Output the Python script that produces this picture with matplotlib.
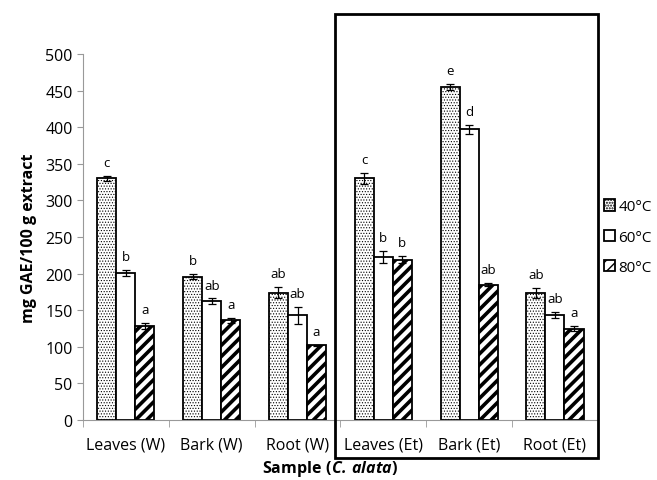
import matplotlib
matplotlib.use("Agg")
import matplotlib.pyplot as plt
import numpy as np
from matplotlib.patches import Rectangle

plt.rcParams['font.family'] = ['Open Sans', 'DejaVu Sans']
plt.rcParams['mathtext.fontset'] = 'custom'
plt.rcParams['mathtext.bf'] = 'Open Sans:bold'
plt.rcParams['mathtext.bfit'] = 'Open Sans:italic:bold'

samples = ['Leaves (W)', 'Bark (W)', 'Root (W)', 'Leaves (Et)', 'Bark (Et)', 'Root (Et)']
temps = ['40°C', '60°C', '80°C']
val_40 = [330, 196, 174, 330, 455, 174]
val_60 = [201, 162, 143, 223, 397, 143]
val_80 = [129, 136, 102, 219, 185, 125]
err_40 = [4, 4, 8, 8, 4, 7]
err_60 = [4, 4, 12, 8, 6, 4]
err_80 = [4, 3, 1, 5, 2, 4]
let_40 = ['c', 'b', 'ab', 'c', 'e', 'ab']
let_60 = ['b', 'ab', 'ab', 'b', 'd', 'ab']
let_80 = ['a', 'a', 'a', 'b', 'ab', 'a']

values = [val_40, val_60, val_80]
errors = [err_40, err_60, err_80]
letters = [let_40, let_60, let_80]
hatches = ['......', '', '///']
hatch_lw = [0.5, 1.0, 2.6]

fig = plt.figure(figsize=(6.57, 4.81), dpi=100)
ax = fig.add_axes([0.1263, 0.1247, 0.7837, 0.761])

x = np.arange(len(samples))
w = 0.222
handles = []
for i in range(3):
    with plt.rc_context({'hatch.linewidth': hatch_lw[i]}):
        b = ax.bar(x + (i - 1) * w, values[i], w, color='white', edgecolor='black',
                   linewidth=1.3, hatch=hatches[i], label=temps[i], zorder=2)
    handles.append(b)
    ax.errorbar(x + (i - 1) * w, values[i], yerr=errors[i], fmt='none', ecolor='black',
                elinewidth=0.9, capsize=3, capthick=0.9, zorder=3)
    for xi, v, e, t in zip(x + (i - 1) * w, values[i], errors[i], letters[i]):
        ax.annotate(t, (xi, v + e), xytext=(0, 5), textcoords='offset points',
                    ha='center', va='bottom', fontsize=9.5)

ax.set_xlim(-0.5, len(samples) - 0.5)
ax.set_ylim(0, 500)
ax.set_yticks(np.arange(0, 501, 50))
ax.set_xticks(x)
ax.set_xticklabels(samples, fontsize=11.5)
ax.set_xticks(np.arange(-0.5, len(samples), 1), minor=True)
ax.tick_params(axis='x', which='major', length=0, pad=12)
ax.tick_params(axis='x', which='minor', length=5, color='#999999')
ax.tick_params(axis='y', labelsize=11.5, length=4, color='#999999')
for s in ['top', 'right']:
    ax.spines[s].set_visible(False)
for s in ['left', 'bottom']:
    ax.spines[s].set_color('#999999')
ax.set_ylabel('mg GAE/100 g extract', fontsize=11.5, fontweight='bold', labelpad=6)
fig.text(0.502, 0.004, r'$\mathbf{Sample\ (}\mathbfit{C.\,alata}\mathbf{)}$',
         ha='center', va='bottom', fontsize=11.5)

leg = fig.legend(handles=handles, loc='center left', bbox_to_anchor=(0.919, 0.505),
                 frameon=False, fontsize=11, handlelength=0.75, handleheight=0.75,
                 handletextpad=0.2, labelspacing=1.0, borderpad=0, borderaxespad=0)

fig.add_artist(Rectangle((335 / 657, 1 - 459 / 481), 263 / 657, 444 / 481,
                         transform=fig.transFigure, fill=False, edgecolor='black',
                         linewidth=2))

fig.savefig('out.png', dpi=100)
